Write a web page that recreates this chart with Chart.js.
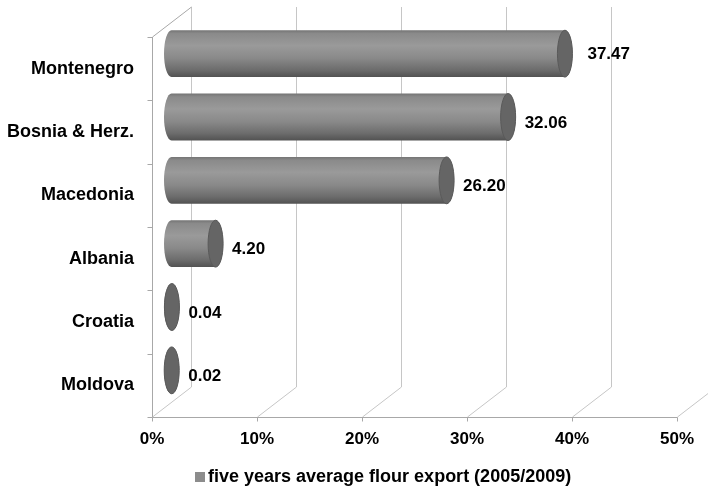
<!DOCTYPE html>
<html>
<head>
<meta charset="utf-8">
<style>
  html, body { margin: 0; padding: 0; background: #ffffff; }
  #wrap { width: 708px; height: 490px; }
</style>
<script src="https://cdn.jsdelivr.net/npm/chart.js@4/dist/chart.umd.min.js"></script>
</head>
<body>
<div id="wrap"><canvas id="c" width="708" height="490"></canvas></div>
<script>
const categories = ['Montenegro', 'Bosnia & Herz.', 'Macedonia', 'Albania', 'Croatia', 'Moldova'];
const exportShare = [37.47, 32.06, 26.20, 4.20, 0.04, 0.02];
const valueLabels = ['37.47', '32.06', '26.20', '4.20', '0.04', '0.02'];
const xTickValues = [0, 10, 20, 30, 40, 50];
const seriesName = 'five years average flour export (2005/2009)';

const FONT = 'Arial, "Liberation Sans", sans-serif';
const DEPTH_X = 39, DEPTH_Y = -30;
const SERIES_COLOR = '#8c8c8c';

// legend drawn below the axis
const legendPlugin = {
  id: 'legendBelow',
  afterDraw(chart) {
    const ctx = chart.ctx;
    const a = chart.chartArea;
    ctx.save();
    ctx.font = 'bold 18px ' + FONT;
    const boxW = 10, gap = 3;
    const x = Math.round(a.left + 43);
    const y = chart.height - 13;
    ctx.fillStyle = SERIES_COLOR;
    ctx.fillRect(x, y - 5, boxW, boxW);
    ctx.fillStyle = '#000000';
    ctx.textAlign = 'left';
    ctx.textBaseline = 'middle';
    ctx.fillText(seriesName, x + boxW + gap, y);
    ctx.restore();
  }
};

const cylinderPlugin = {
  id: 'cylinder3d',
  beforeDatasetsDraw(chart) {
    const ctx = chart.ctx;
    const a = chart.chartArea;
    const xs = chart.scales.x;
    ctx.save();
    ctx.lineWidth = 1;

    // back wall gridlines + floor diagonals
    ctx.strokeStyle = '#c6c6c6';
    xTickValues.forEach(v => {
      const px = Math.round(xs.getPixelForValue(v)) + 0.5;
      ctx.beginPath();
      ctx.moveTo(px + DEPTH_X, a.top + DEPTH_Y);
      ctx.lineTo(px + DEPTH_X, a.bottom + DEPTH_Y);
      ctx.lineTo(px, a.bottom);
      ctx.stroke();
    });

    // left wall
    const lx = Math.round(xs.getPixelForValue(0)) + 0.5;
    ctx.strokeStyle = '#a8a8a8';
    ctx.beginPath();
    ctx.moveTo(lx + DEPTH_X, a.top + DEPTH_Y);
    ctx.lineTo(lx, a.top);
    ctx.lineTo(lx, a.bottom);
    ctx.stroke();

    // front floor line
    const by = Math.round(a.bottom) + 0.5;
    ctx.beginPath();
    ctx.moveTo(lx, by);
    ctx.lineTo(Math.round(xs.getPixelForValue(50)) + 0.5, by);
    ctx.stroke();

    // x tick marks
    xTickValues.forEach(v => {
      const px = Math.round(xs.getPixelForValue(v)) + 0.5;
      ctx.beginPath();
      ctx.moveTo(px, by);
      ctx.lineTo(px, by + 4);
      ctx.stroke();
    });

    // y tick marks at category boundaries
    const n = categories.length;
    const band = (a.bottom - a.top) / n;
    for (let i = 0; i <= n; i++) {
      const py = Math.round(a.top + band * i) + 0.5;
      ctx.beginPath();
      ctx.moveTo(lx - 5, py);
      ctx.lineTo(lx, py);
      ctx.stroke();
    }

    // cylinders
    const meta = chart.getDatasetMeta(0);
    const rx = 7.5;
    meta.data.forEach((bar, i) => {
      const p = bar.getProps(['x', 'y', 'base', 'height'], true);
      const x0 = p.base + DEPTH_X / 2;
      const x1 = p.x + DEPTH_X / 2;
      const yc = p.y + DEPTH_Y / 2;
      const r = p.height / 2;
      const g = ctx.createLinearGradient(0, yc - r, 0, yc + r);
      g.addColorStop(0, '#747474');
      g.addColorStop(0.07, '#8a8a8a');
      g.addColorStop(0.33, '#9a9a9a');
      g.addColorStop(0.6, '#898989');
      g.addColorStop(0.85, '#6c6c6c');
      g.addColorStop(1, '#525252');
      ctx.beginPath();
      ctx.ellipse(x0, yc, rx, r, 0, Math.PI / 2, Math.PI * 1.5, false);
      ctx.lineTo(x1, yc - r);
      ctx.ellipse(x1, yc, rx, r, 0, -Math.PI / 2, Math.PI / 2, false);
      ctx.closePath();
      ctx.fillStyle = g;
      ctx.fill();
      // end cap
      ctx.beginPath();
      ctx.ellipse(x1, yc, rx, r, 0, 0, Math.PI * 2);
      ctx.fillStyle = '#656565';
      ctx.fill();
      ctx.strokeStyle = '#5a5a5a';
      ctx.stroke();

      // value label
      ctx.fillStyle = '#000000';
      ctx.font = 'bold 17px ' + FONT;
      ctx.textAlign = 'left';
      ctx.textBaseline = 'middle';
      const gap = i === 0 ? 15 : 9;
      const dy = i === 0 ? 1 : 6;
      ctx.fillText(valueLabels[i], x1 + rx + gap, yc + dy);
    });

    ctx.restore();
    return false;
  }
};

new Chart(document.getElementById('c'), {
  type: 'bar',
  data: {
    labels: categories,
    datasets: [{
      label: seriesName,
      data: exportShare,
      backgroundColor: SERIES_COLOR,
      borderWidth: 0,
      barPercentage: 0.74,
      categoryPercentage: 1.0
    }]
  },
  options: {
    indexAxis: 'y',
    responsive: false,
    animation: false,
    devicePixelRatio: 1,
    layout: { padding: { left: 0, right: 31, top: 37, bottom: 26 } },
    plugins: {
      tooltip: { enabled: false },
      legend: { display: false }
    },
    scales: {
      x: {
        type: 'linear',
        min: 0,
        max: 50,
        border: { display: false },
        grid: { display: false, drawTicks: false },
        ticks: {
          stepSize: 10,
          padding: 12,
          color: '#000000',
          font: { family: FONT, size: 17, weight: 'bold' },
          callback: v => v + '%'
        },
        afterFit: s => { s.height = 47; }
      },
      y: {
        border: { display: false },
        grid: { display: false, drawTicks: false },
        ticks: {
          padding: 18,
          color: '#000000',
          font: { family: FONT, size: 18, weight: 'bold' }
        },
        afterFit: s => { s.width = 152; }
      }
    }
  },
  plugins: [legendPlugin, cylinderPlugin]
});
</script>
</body>
</html>
